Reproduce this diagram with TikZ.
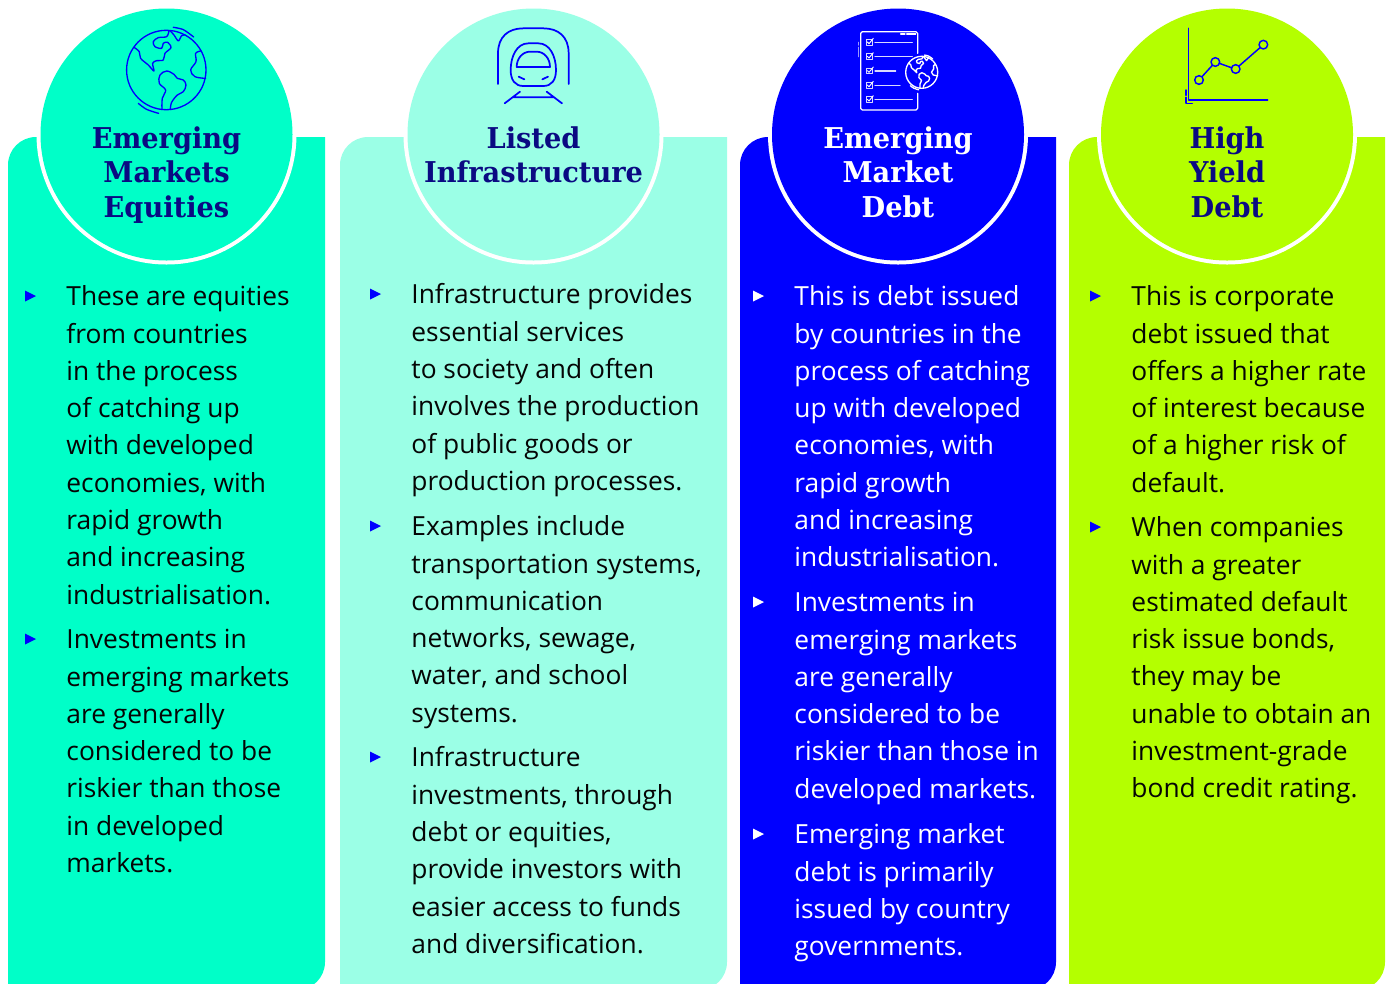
\documentclass[tikz,border=0pt]{standalone}
\usepackage{fontspec}
\setmainfont{Open Sans}
\newfontfamily\titlefont[FakeStretch=0.95]{DejaVu Serif}
\definecolor{cOne}{HTML}{00FFC8}
\definecolor{cTwo}{HTML}{9BFFE6}
\definecolor{cThree}{HTML}{0000FF}
\definecolor{cFour}{HTML}{B4FF00}
\definecolor{navy}{HTML}{0A0A82}
\definecolor{bodyink}{HTML}{050505}
\newcommand{\panel}[4]{% x1, x2, cx, colour
  \fill[#4] (#1,990) [rounded corners=21pt] -- (#1,137) [sharp corners] -- (#2,137) [rounded corners=21pt] -- (#2,990) [sharp corners] -- cycle;
  \fill[white] (#3,134.5) circle[radius=130];
  \fill[#4] (#3,134.5) circle[radius=126];
}
\newcommand{\para}[4]{% name, x, baseline y, lines
  \node[bodytext,anchor=north west] (#1) at (#2-0.8,#3-19.5) {\rule{0pt}{15pt}#4};
}
\newcommand{\bul}[3]{% x, center y, colour
  \fill[#3] (#1,#2-5.5) -- (#1+11,#2) -- (#1,#2+5.5) -- cycle;
}
\newcommand{\titlenode}[4]{% name, cx, options, lines
  \node[titletext,anchor=north,#3] (#1) at (#2,148-24) {\rule{0pt}{18pt}#4};
}
\newcommand{\globe}[4]{% cx, cy, R, colour
  \begin{scope}[shift={(#1,#2)},scale=#3/119,draw=#4,line width=1pt,line join=round,line cap=round]
    \draw (0,0) circle[radius=119];
    \begin{scope}[shift={(-199,-165)}]
    \draw plot[smooth,tension=.55] coordinates {(102,97) (118,110) (122,130) (145,150) (162,168) (158,145) (170,137) (190,135) (195,115) (213,98) (203,82) (190,85) (185,100) (165,95) (160,80) (175,68) (200,65) (207,48)};
    \draw plot[smooth,tension=.4] coordinates {(210,47) (222,60) (235,78) (245,62) (255,60)};
    \draw plot[smooth,tension=.6] coordinates {(303,108) (287,115) (288,140) (272,165) (285,185) (317,190)};
    \draw plot[smooth,tension=.6] coordinates {(186,283) (187,250) (197,225) (178,205) (180,180) (200,168) (222,178) (232,190) (250,195) (258,210) (250,230) (232,240) (215,262) (211,283)};
    \draw plot[smooth] coordinates {(220,37) (250,44) (281,66)};
    \draw plot[smooth] coordinates {(115,265) (140,283) (176,295)};
    \end{scope}
  \end{scope}
}
\tikzset{
  x=0.75pt,y=-0.75pt,
  bodytext/.style={align=left,inner sep=0pt,font=\fontsize{19.75}{27.97}\selectfont,text=bodyink},
  titletext/.style={align=center,inner sep=0pt,text=navy,font=\titlefont\bfseries\fontsize{21.5}{25.9}\selectfont},
}
\begin{document}
\begin{tikzpicture}
\path[use as bounding box] (0,0) rectangle (1391,983);
\clip (0,0) rectangle (1391,983);
\panel{8}{325}{166.5}{cOne}
\panel{340}{727}{533.5}{cTwo}
\panel{740}{1056}{898}{cThree}
\panel{1069}{1385}{1227}{cFour}

% icons
\globe{166.3}{70}{39.7}{cThree}

\begin{scope}[shift={(400,0)},x=0.25pt,y=-0.25pt,draw=cThree,line width=1.3pt,line cap=round,line join=round]
  \draw (294,252) -- (294,160) .. controls (294,110) and (325,85) .. (370,85) -- (430,85) .. controls (475,85) and (506,110) .. (506,160) -- (506,252);
  \draw (400,130) -- (385,130) .. controls (350,130) and (332,170) .. (332,210) .. controls (332,240) and (345,258) .. (370,258) -- (430,258) .. controls (455,258) and (468,240) .. (468,210) .. controls (468,170) and (450,130) .. (415,130) -- cycle;
  \draw (350,201) -- (450,201) .. controls (450,175) and (432,155) .. (410,155) -- (390,155) .. controls (368,155) and (350,175) .. (350,201) -- cycle;
  \draw (356,230) -- (373,238) (444,230) -- (427,238);
  \draw (360,275) -- (314,310) (440,275) -- (486,310) (338,292) -- (462,292);
\end{scope}

\begin{scope}[shift={(820,10)},x=0.25pt,y=-0.25pt,draw=white,line width=.9pt,line cap=round,line join=round]
  \draw (293,130) -- (293,70) .. controls (293,66) and (292,65) .. (288,65) -- (127,65) .. controls (123,65) and (122,66) .. (122,70) -- (122,295) .. controls (122,299) and (123,300) .. (127,300) -- (288,300) .. controls (292,300) and (293,299) .. (293,295) -- (293,250);
  \draw (242,72) -- (255,72) (260,72) -- (287,72);
  \draw[white!60!cThree] (115,97) -- (115,105) (115,112) -- (115,140);
  \foreach \yy/\xe in {96/277,139/277,182/227,225/240,268/277}{
    \draw[white!85!cThree,line width=.7pt] (138,\yy-8) rectangle (156,\yy+9);
    \draw[line width=.7pt] (142,\yy) -- (147,\yy+5) -- (160,\yy-11);
    \draw[white!85!cThree] (165,\yy+1) -- (\xe,\yy+1);
  }
\end{scope}
\globe{921.7}{72.3}{16}{white}

\begin{scope}[shift={(1160,10)},x=0.25pt,y=-0.25pt,draw=cThree,line width=1.1pt,line cap=round,line join=round]
  \draw (85,55) -- (85,270) -- (323,270);
  \draw[dash pattern=on 4pt off 1.5pt] (78,240) -- (78,280);
  \draw (78,280) -- (97,280);
  \draw (117,210) circle[radius=13] (166,156) circle[radius=13] (227,177) circle[radius=13] (310,104) circle[radius=13];
  \draw (126,200) -- (157,166) (178,160) -- (214,173) (237,168) -- (300,113);
\end{scope}

% titles
\titlenode{t1}{166.5}{}{Emerging\\Markets\\Equities}
\titlenode{t2}{533.5}{}{Listed\\Infrastructure}
\titlenode{t3}{898}{text=white}{Emerging\\Market\\Debt}
\titlenode{t4}{1227}{}{High\\Yield\\Debt}

% column 1
\bul{25}{296}{cThree}
\para{a1}{67}{305}{These are equities\\from countries\\in the process\\of catching up\\with developed\\economies, with\\rapid growth\\and increasing\\industrialisation.}
\bul{25}{639}{cThree}
\para{a2}{67}{648}{Investments in\\emerging markets\\are generally\\considered to be\\riskier than those\\in developed\\markets.}

% column 2
\bul{370}{294}{cThree}
\para{b1}{412}{303}{Infrastructure provides\\essential services\\to society and often\\involves the production\\of public goods or\\production processes.}
\bul{370}{526}{cThree}
\para{b2}{412}{535}{Examples include\\transportation systems,\\communication\\networks, sewage,\\water, and school\\systems.}
\bul{370}{757}{cThree}
\para{b3}{412}{766}{Infrastructure\\investments, through\\debt or equities,\\provide investors with\\easier access to funds\\and diversification.}

% column 3
\tikzset{bodytext/.append style={text=white}}
\bul{753}{296}{white}
\para{c1}{795}{305}{This is debt issued\\by countries in the\\process of catching\\up with developed\\economies, with\\rapid growth\\and increasing\\industrialisation.}
\bul{753}{602}{white}
\para{c2}{795}{611}{Investments in\\emerging markets\\are generally\\considered to be\\riskier than those in\\developed markets.}
\bul{753}{834}{white}
\para{c3}{795}{843}{Emerging market\\debt is primarily\\issued by country\\governments.}

% column 4
\tikzset{bodytext/.append style={text=bodyink}}
\bul{1090}{296}{cThree}
\para{d1}{1132}{305}{This is corporate\\debt issued that\\offers a higher rate\\of interest because\\of a higher risk of\\default.}
\bul{1090}{527}{cThree}
\para{d2}{1132}{536}{When companies\\with a greater\\estimated default\\risk issue bonds,\\they may be\\unable to obtain an\\investment-grade\\bond credit rating.}
\end{tikzpicture}
\end{document}
